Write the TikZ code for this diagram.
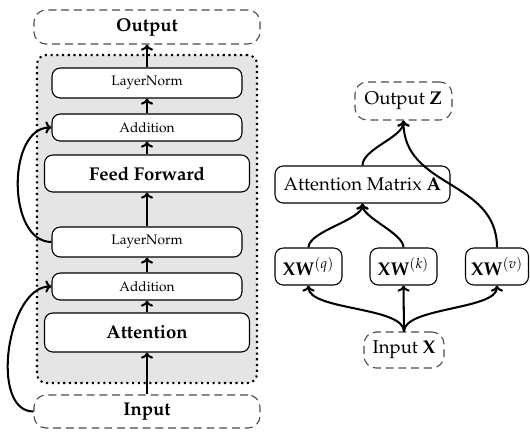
\documentclass[tikz,border=0pt]{standalone}
\usepackage[T1]{fontenc}
\usepackage{mathpazo}
\usetikzlibrary{arrows.meta}
\begin{document}
\begin{tikzpicture}[x=0.54pt,y=-0.54pt,
  box/.style 2 args={draw=black, line width=0.6pt, rounded corners=4.5pt, fill=white,
     minimum width=#1*0.54pt, minimum height=#2*0.54pt, inner sep=0pt, align=center},
  dbox/.style 2 args={draw=black!70, dash pattern=on 4.3pt off 2.6pt, line width=0.6pt,
     rounded corners=6.5pt, minimum width=#1*0.54pt, minimum height=#2*0.54pt, inner sep=0pt},
  smalltxt/.style={font=\fontsize{7.4}{9}\selectfont},
  boldtxt/.style={font=\bfseries},
  conn/.style={line width=1.1pt, -{To[length=3.3pt,width=6.6pt]}},
  bg/.style={draw=black, fill=black!10, dotted, line width=1.1pt, rounded corners=5pt,
     minimum width=220*0.54pt, minimum height=328*0.54pt, inner sep=0pt}
]
\useasboundingbox (0,0) rectangle (530,431);

% ---- left column ----
\node[bg] (block) at (147,219) {};
\node[dbox={226}{34}, boldtxt] (out) at (147,27) {Output};
\node[box={190}{30}, smalltxt] (ln1) at (147,83) {LayerNorm};
\node[box={190}{27}, smalltxt] (add1) at (147,127.5) {Addition};
\node[box={205}{37}, boldtxt] (ff) at (147,173.5) {Feed Forward};
\node[box={190}{30}, smalltxt] (ln2) at (147,242) {LayerNorm};
\node[box={190}{27}, smalltxt] (add2) at (147,286.5) {Addition};
\node[box={205}{39}, boldtxt] (att) at (147,332.5) {Attention};
\node[dbox={226}{33}, boldtxt] (in) at (147,411.5) {Input};

\draw[conn] (in.north) -- (att.south);
\draw[conn] (att.north) -- (add2.south);
\draw[conn] (add2.north) -- (ln2.south);
\draw[conn] (ln2.north) -- (ff.south);
\draw[conn] (ff.north) -- (add1.south);
\draw[conn] (add1.north) -- (ln1.south);
\draw[conn] (ln1.north) -- (out.south);
\draw[conn] (ln2.west) to[out=180,in=180] (add1.west);
\draw[conn] (in.west) to[out=180,in=180,looseness=0.9] (add2.west);

% ---- right diagram ----
\node[dbox={97}{38}] (outz) at (403.5,101) {Output $\mathbf{Z}$};
\node[box={175}{37}] (amat) at (362.5,184.5) {Attention Matrix $\mathbf{A}$};
\node[box={67}{37}] (xq) at (308.5,266.5) {$\mathbf{XW}^{(q)}$};
\node[box={67}{37}] (xk) at (403.5,266.5) {$\mathbf{XW}^{(k)}$};
\node[box={63}{37}] (xv) at (497,266.5) {$\mathbf{XW}^{(v)}$};
\node[dbox={80}{36}] (inx) at (404,350) {Input $\mathbf{X}$};

\draw[conn] (inx.north) -- (xk.south);
\draw[conn] (inx.north) to[out=90,in=-90,looseness=0.6] (xq.south);
\draw[conn] (inx.north) to[out=90,in=-90,looseness=0.6] (xv.south);
\draw[conn] (xq.north) to[out=90,in=-90,looseness=0.6] (amat.south);
\draw[conn] (xk.north) to[out=90,in=-90,looseness=0.6] (amat.south);
\draw[conn] (amat.north) to[out=90,in=-90,looseness=0.7] (outz.south);
\draw[conn] (xv.north) to[out=90,in=-90,looseness=1.1] (outz.south);
\end{tikzpicture}
\end{document}
